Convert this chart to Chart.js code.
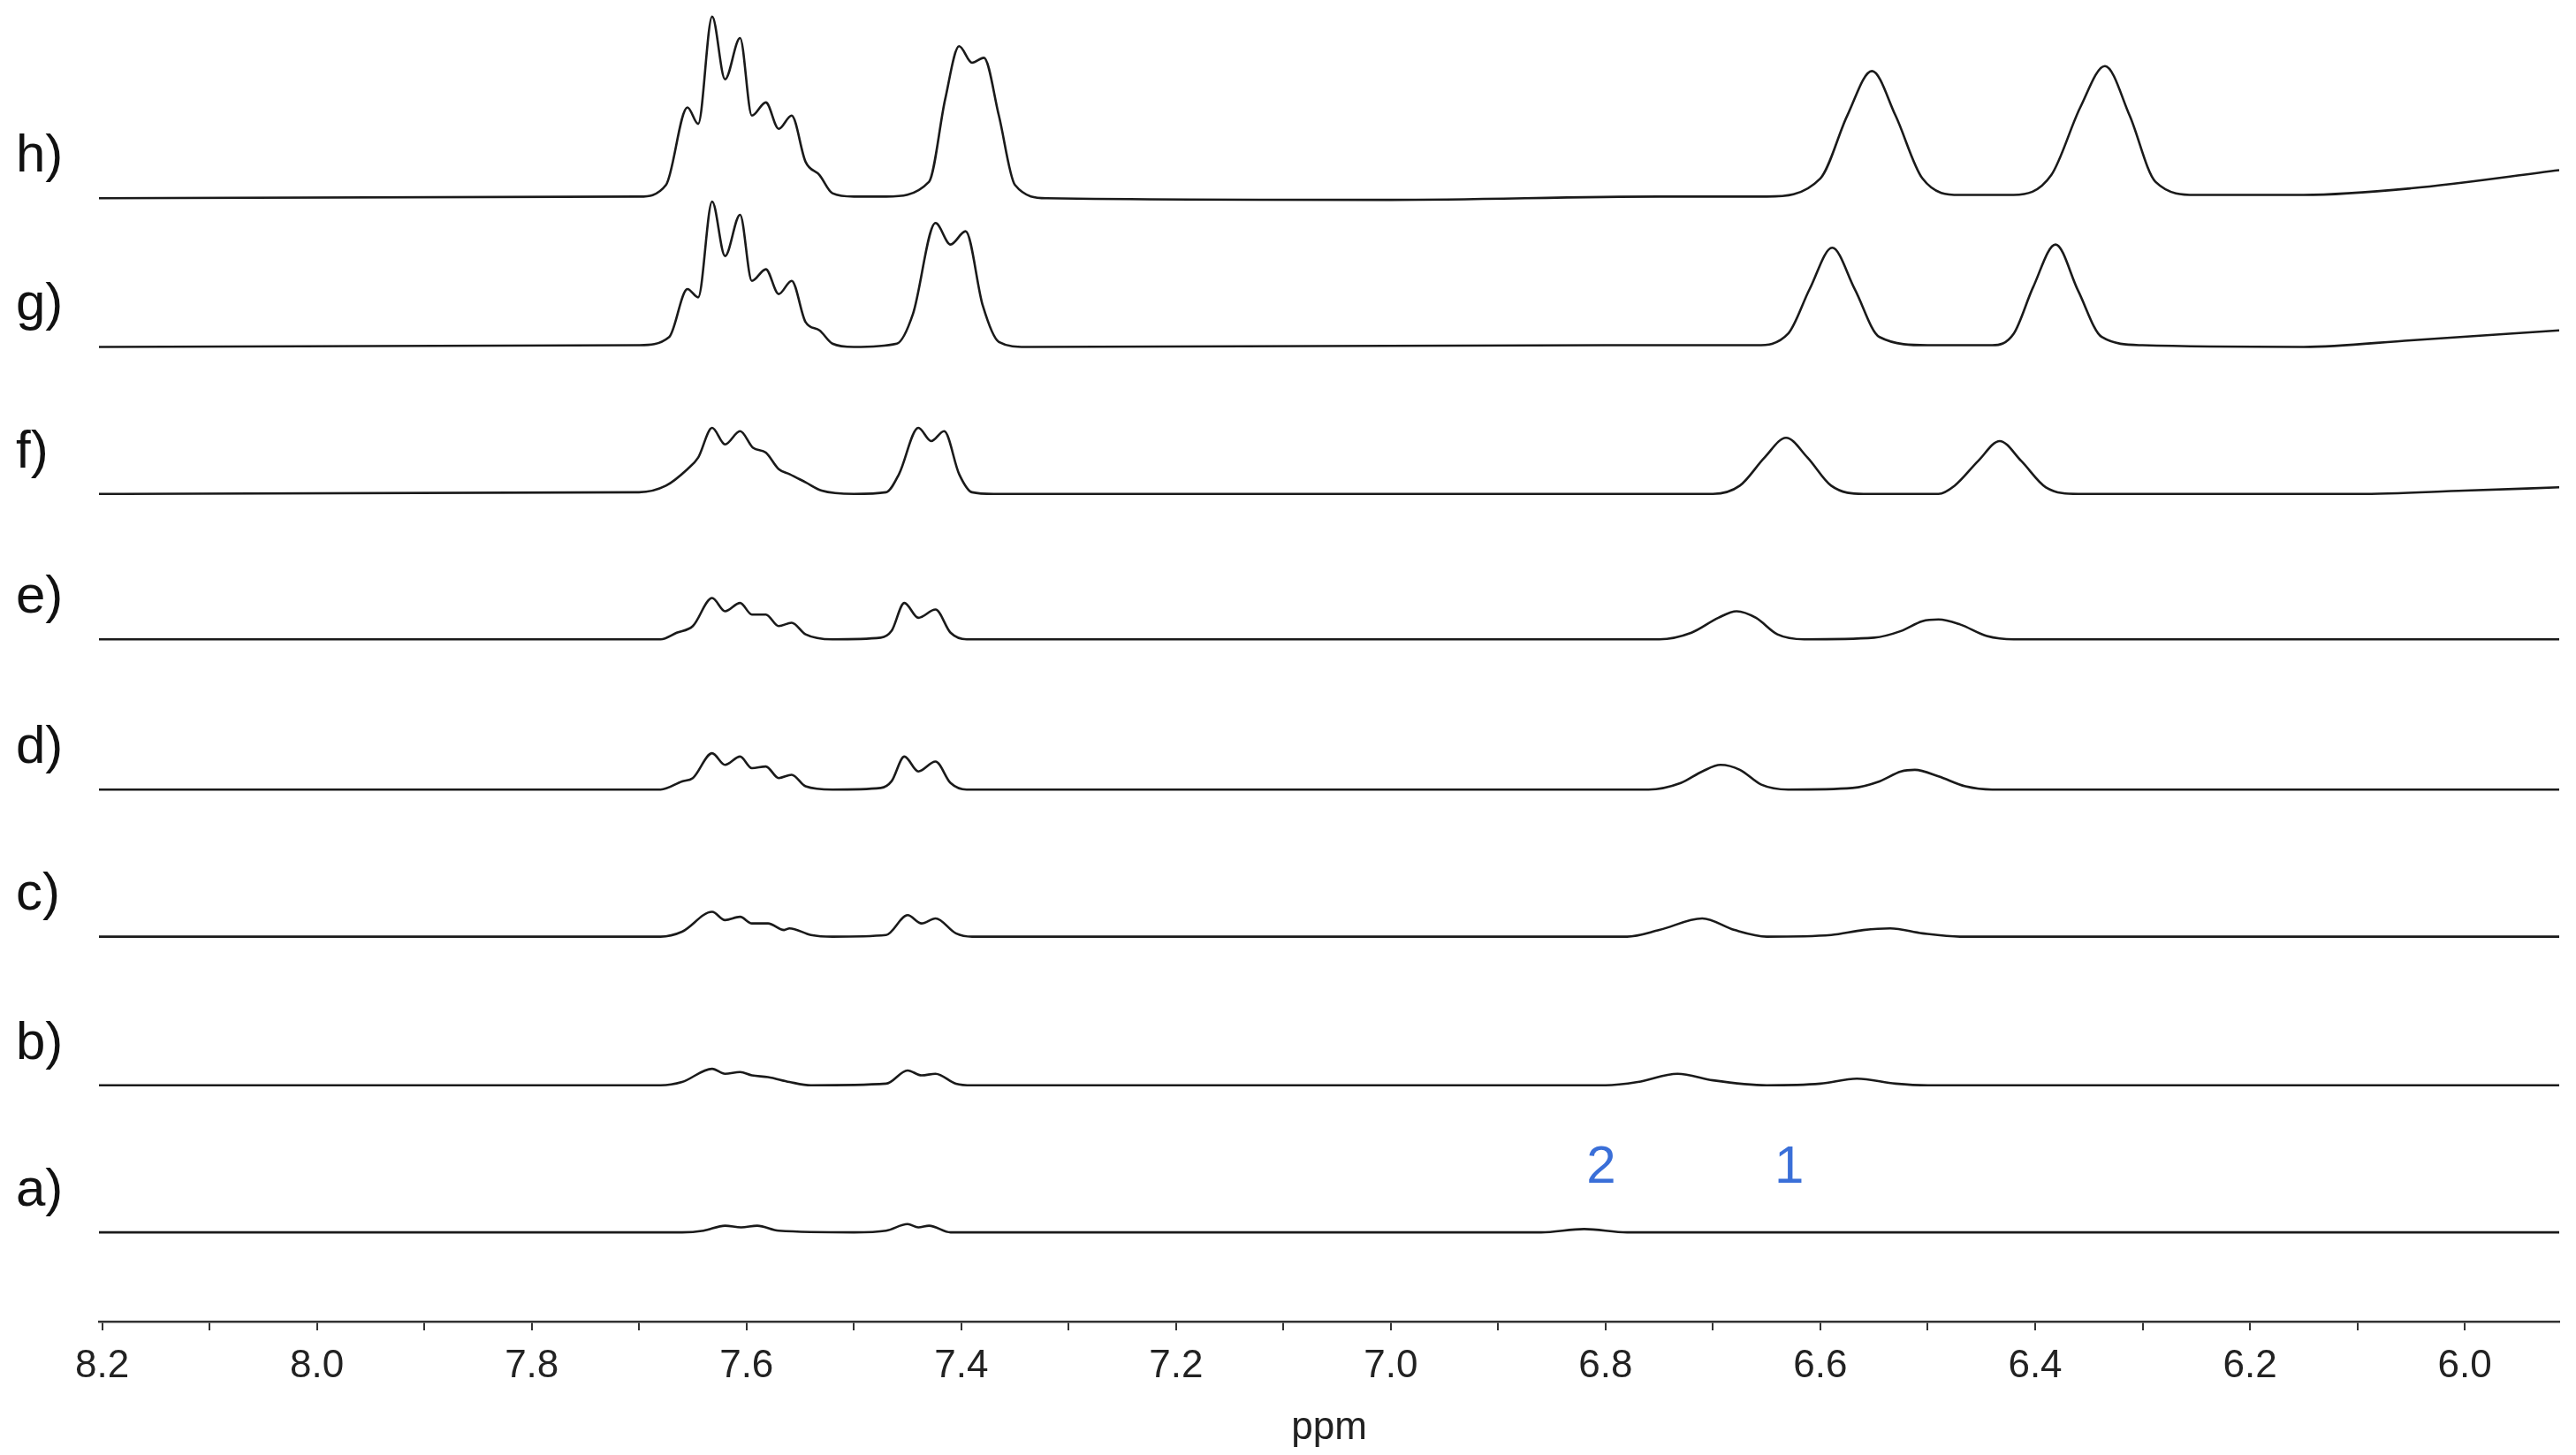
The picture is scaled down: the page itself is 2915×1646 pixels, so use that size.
<!DOCTYPE html>
<html><head><meta charset="utf-8">
<script src="https://cdn.jsdelivr.net/npm/chart.js@4"></script>
<style>html,body{margin:0;padding:0;background:#fff}#wrap{width:2915px;height:1646px}</style>
</head><body><div id="wrap"><canvas id="c" width="2915" height="1646"></canvas></div>
<script>
const traceLabels = ["a)","b)","c)","d)","e)","f)","g)","h)"];
const traceOffsets = [54,143,233,322,413,501,590,680];
const xTicksMin = 5.912, xTicksMax = 8.203;
const peakLabels = [["2",6.804,93],["1",6.629,93]];

const specA = [[8.203,0],[7.66,0],[7.64,1],[7.62,4],[7.605,3],[7.59,4],[7.57,1],[7.5,0],[7.47,1],[7.45,5],[7.44,3],[7.43,4],[7.41,0],[7.0,0],[6.86,0],[6.82,2],[6.78,0],[6.4,0],[5.912,0]];
const specB = [[8.203,0],[7.68,0],[7.66,2],[7.632,10],[7.62,7],[7.606,8],[7.595,6],[7.58,5],[7.56,2],[7.54,0],[7.47,1],[7.45,9],[7.437,6],[7.424,7],[7.405,1],[7.39,0],[6.8,0],[6.77,2],[6.733,7],[6.7,3],[6.65,0],[6.6,1],[6.566,4],[6.53,1],[6.5,0],[5.912,0]];
const specC = [[8.203,0],[7.68,0],[7.66,3],[7.632,15],[7.62,10],[7.606,12],[7.595,8],[7.58,8],[7.565,4],[7.56,5],[7.54,1],[7.52,0],[7.47,1],[7.45,13],[7.437,8],[7.424,11],[7.405,2],[7.39,0],[6.78,0],[6.75,4],[6.71,11],[6.68,4],[6.65,0],[6.59,1],[6.56,4],[6.535,5],[6.505,2],[6.47,0],[5.912,0]];
const specD = [[8.203,0],[7.68,0],[7.66,5],[7.65,7],[7.632,22],[7.62,15],[7.606,20],[7.595,13],[7.582,14],[7.57,7],[7.558,9],[7.545,2],[7.52,0],[7.475,1],[7.465,5],[7.453,20],[7.44,11],[7.424,17],[7.41,4],[7.395,0],[6.76,0],[6.73,4],[6.71,11],[6.693,15],[6.675,12],[6.655,3],[6.63,0],[6.57,1],[6.545,5],[6.525,11],[6.512,12],[6.49,8],[6.465,2],[6.44,0],[5.912,0]];
const specE = [[8.203,0],[7.68,0],[7.665,4],[7.65,8],[7.632,25],[7.62,17],[7.606,22],[7.595,15],[7.582,15],[7.57,8],[7.558,10],[7.545,3],[7.52,0],[7.475,1],[7.465,5],[7.453,22],[7.44,13],[7.424,18],[7.41,4],[7.395,0],[6.75,0],[6.72,4],[6.695,13],[6.678,17],[6.66,13],[6.64,3],[6.615,0],[6.55,1],[6.525,5],[6.505,11],[6.49,12],[6.47,9],[6.445,2],[6.42,0],[5.912,0]];
const specF = [[8.203,0],[7.7,1],[7.675,5],[7.655,15],[7.645,22],[7.632,40],[7.62,30],[7.606,38],[7.594,28],[7.582,25],[7.57,15],[7.56,12],[7.545,7],[7.53,2],[7.5,0],[7.47,1],[7.458,12],[7.44,40],[7.428,32],[7.416,38],[7.402,12],[7.39,1],[7.37,0],[6.7,0],[6.675,5],[6.652,22],[6.632,34],[6.612,22],[6.59,5],[6.56,0],[6.49,0],[6.475,5],[6.453,20],[6.433,32],[6.413,20],[6.39,4],[6.36,0],[6.1,0],[6.0,2],[5.912,4]];
const specG = [[8.203,0],[7.70,1],[7.672,6],[7.655,35],[7.645,30],[7.632,88],[7.62,55],[7.606,80],[7.595,40],[7.582,47],[7.57,32],[7.558,40],[7.545,15],[7.532,10],[7.52,2],[7.50,0],[7.46,2],[7.445,20],[7.424,75],[7.41,62],[7.396,70],[7.38,25],[7.365,3],[7.34,0],[6.8,1],[6.66,1],[6.63,8],[6.61,35],[6.589,60],[6.568,35],[6.545,6],[6.5,1],[6.44,1],[6.42,8],[6.402,36],[6.381,62],[6.36,34],[6.338,6],[6.3,1],[6.15,0],[6.05,4],[5.912,10]];
const specH = [[8.203,0],[7.70,1],[7.675,8],[7.655,55],[7.645,45],[7.632,110],[7.62,72],[7.606,97],[7.595,50],[7.582,58],[7.57,42],[7.558,50],[7.545,22],[7.532,14],[7.52,3],[7.50,1],[7.47,1],[7.43,10],[7.415,60],[7.402,92],[7.39,82],[7.379,85],[7.365,50],[7.35,8],[7.32,0],[7.0,-1],[6.75,1],[6.65,1],[6.6,12],[6.575,50],[6.552,77],[6.53,50],[6.505,12],[6.47,2],[6.42,2],[6.385,14],[6.358,55],[6.335,80],[6.312,50],[6.288,10],[6.25,2],[6.15,2],[6.05,6],[5.912,17]];
const spectra = [specA,specB,specC,specD,specE,specF,specG,specH];

const datasets = spectra.map((s,i)=>({
  data: s.map(p=>({x:p[0], y:p[1]+traceOffsets[i]})),
  borderColor:'#1a1a1a', borderWidth:2.6, pointRadius:0, fill:false,
  cubicInterpolationMode:'monotone'
}));

const labelsPlugin = {
  id:'lbl',
  afterDraw(chart){
    const ctx=chart.ctx, xs=chart.scales.x, ys=chart.scales.y;
    ctx.save();
    ctx.fillStyle='#111'; ctx.font='60px "Liberation Sans", Arial, sans-serif';
    ctx.textBaseline='middle'; ctx.textAlign='left';
    traceLabels.forEach((t,i)=>ctx.fillText(t,18,ys.getPixelForValue(traceOffsets[i]+25)));
    ctx.fillStyle='#3a6fd8'; ctx.textAlign='center';
    peakLabels.forEach(p=>ctx.fillText(p[0],xs.getPixelForValue(p[1]),ys.getPixelForValue(p[2])));
    ctx.restore();
  }
};

new Chart(document.getElementById('c'),{
  type:'line',
  data:{datasets},
  options:{
    responsive:false, animation:false, devicePixelRatio:1,
    layout:{padding:{left:112,right:19,top:0,bottom:0}},
    plugins:{legend:{display:false},tooltip:{enabled:false}},
    scales:{
      x:{type:'linear',reverse:true,min:xTicksMin,max:xTicksMax,
        afterFit(s){s.height=151;},
        border:{color:'#333',width:2.5},
        grid:{drawOnChartArea:false,color:'#333',lineWidth:2,tickLength:10},
        ticks:{stepSize:0.1,autoSkip:false,maxRotation:0,color:'#222',padding:14,
          font:{size:44,family:'"Liberation Sans", Arial, sans-serif'},
          callback(v){const k=Math.round(v*10); return (k%2===0 && Math.abs(v*10-k)<1e-6)?(k/10).toFixed(1):'';}},
        afterBuildTicks(s){const t=[];for(let k=60;k<=82;k++)t.push({value:k/10});s.ticks=t;},
        title:{display:true,text:'ppm',color:'#222',padding:{top:0},font:{size:44,family:'"Liberation Sans", Arial, sans-serif'}}
      },
      y:{display:false,min:0,max:800}
    }
  },
  plugins:[labelsPlugin]
});
</script></body></html>
